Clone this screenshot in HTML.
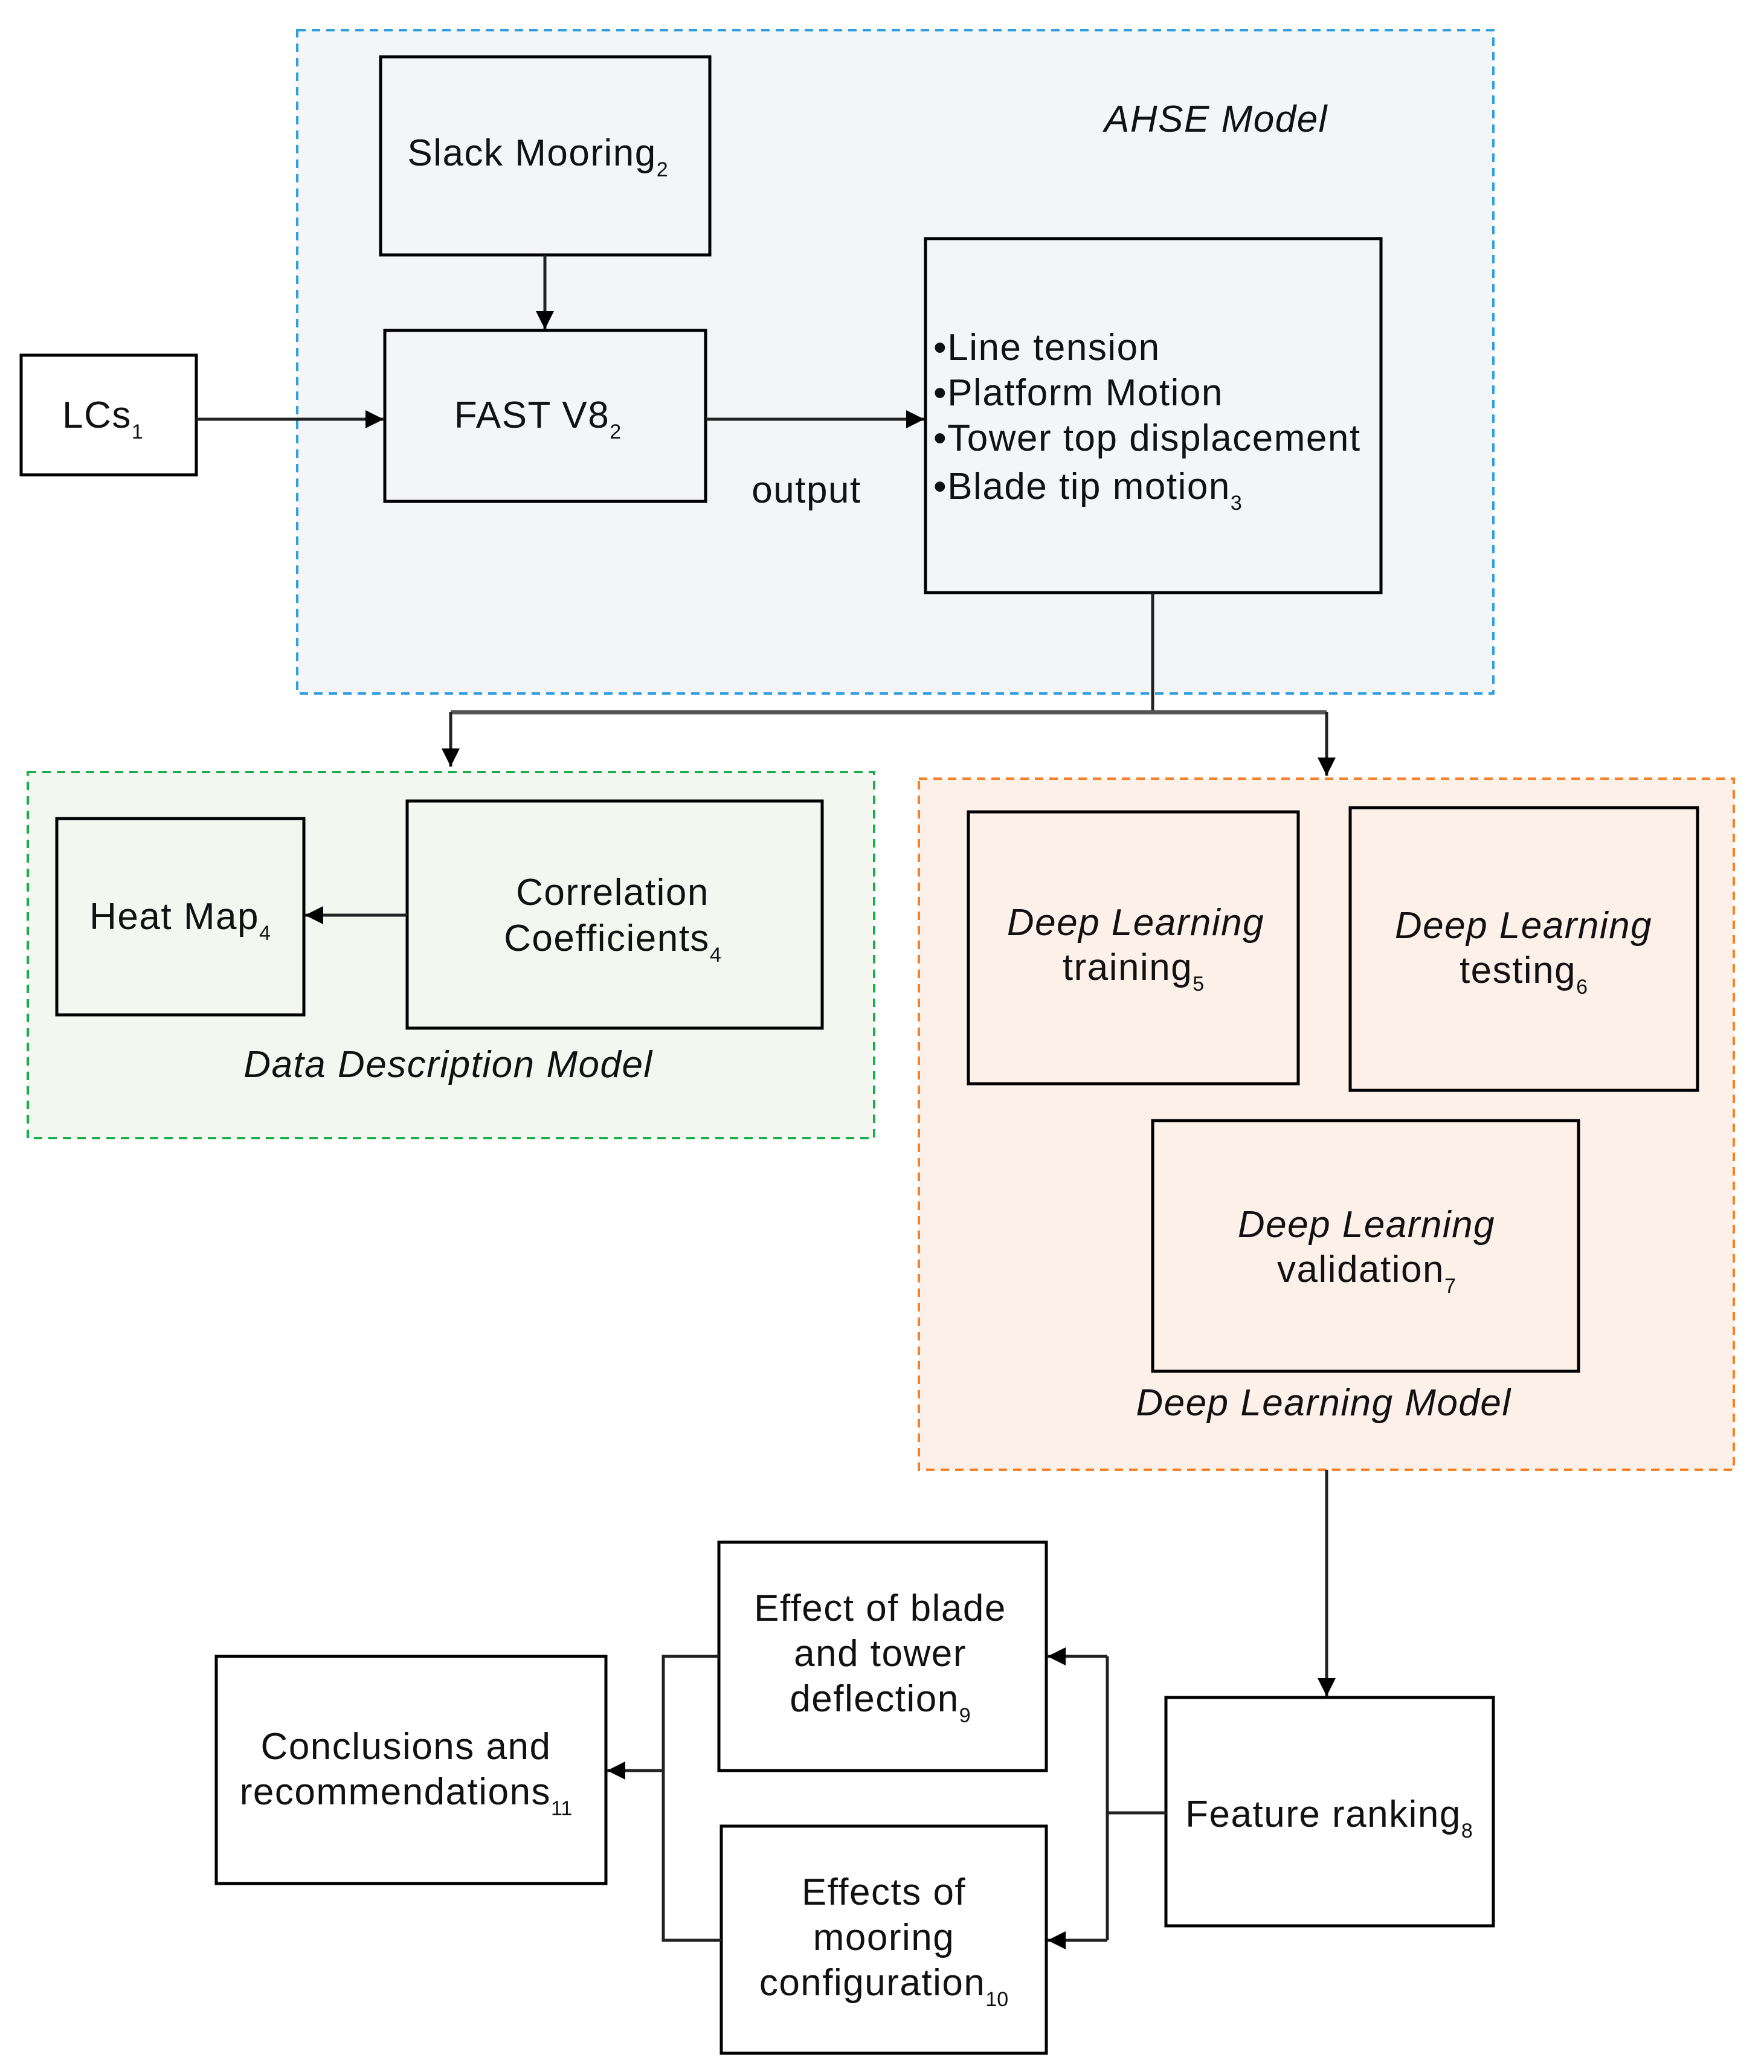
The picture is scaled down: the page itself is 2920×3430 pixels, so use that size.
<!DOCTYPE html>
<html><head><meta charset="utf-8"><style>
html,body{margin:0;padding:0;background:#fff}
svg{display:block}
text{font-family:"Liberation Sans",sans-serif;font-size:62px;fill:#111;letter-spacing:1.5px}
.i{font-style:italic}
.s{font-size:34px;letter-spacing:0}
</style></head><body>
<svg width="2920" height="3430" viewBox="0 0 2920 3430" xmlns="http://www.w3.org/2000/svg">
<defs>
<marker id="a" viewBox="0 0 10 10" refX="10" refY="5" markerWidth="34" markerHeight="30" markerUnits="userSpaceOnUse" orient="auto"><path d="M0,0 L10,5 L0,10z" fill="#000"/></marker>
</defs>
<g>
<rect x="492" y="50" width="1980" height="1098" fill="#f4f5f7" stroke="#2f9fe0" stroke-width="4" stroke-dasharray="14,10"/>
<rect x="46" y="1278" width="1401" height="606" fill="#f3f7f0" stroke="#1aae4a" stroke-width="4" stroke-dasharray="14,10"/>
<rect x="1521" y="1289" width="1349" height="1144" fill="#fdf0e8" stroke="#f5822a" stroke-width="4" stroke-dasharray="14,10"/>
</g>
<g fill="none" stroke="#000" stroke-width="5">
<rect x="630" y="94" width="545" height="328"/>
<rect x="637" y="547" width="531" height="283"/>
<rect x="35" y="588" width="290" height="198" fill="#fff"/>
<rect x="1532" y="395" width="754" height="586"/>
<rect x="94" y="1355" width="409" height="325"/>
<rect x="674" y="1326" width="687" height="376"/>
<rect x="1603" y="1344" width="546" height="450"/>
<rect x="2235" y="1337" width="575" height="468"/>
<rect x="1908" y="1855" width="705" height="415"/>
<rect x="1930" y="2810" width="542" height="378" fill="#fff"/>
<rect x="1190" y="2553" width="542" height="378" fill="#fff"/>
<rect x="1194" y="3023" width="538" height="376" fill="#fff"/>
<rect x="358" y="2742" width="645" height="376" fill="#fff"/>
</g>
<g fill="none" stroke="#222" stroke-width="5">
<line x1="902" y1="422" x2="902" y2="545" marker-end="url(#a)"/>
<line x1="325" y1="694" x2="635" y2="694" marker-end="url(#a)"/>
<line x1="1168" y1="694" x2="1530" y2="694" marker-end="url(#a)"/>
<polyline points="1908,981 1908,1179"/>
<polyline points="746,1179 2196,1179" stroke="#555" stroke-width="7"/>
<line x1="746" y1="1179" x2="746" y2="1269" marker-end="url(#a)"/>
<line x1="2196" y1="1179" x2="2196" y2="1284" marker-end="url(#a)"/>
<line x1="674" y1="1515" x2="505" y2="1515" marker-end="url(#a)"/>
<line x1="2196" y1="2433" x2="2196" y2="2808" marker-end="url(#a)"/>
<polyline points="1930,3001 1833,3001"/>
<polyline points="1833,2742 1833,3212"/>
<line x1="1833" y1="2742" x2="1734" y2="2742" marker-end="url(#a)"/>
<line x1="1833" y1="3212" x2="1734" y2="3212" marker-end="url(#a)"/>
<polyline points="1190,2742 1098,2742 1098,3212 1194,3212"/>
<line x1="1098" y1="2931" x2="1005" y2="2931" marker-end="url(#a)"/>
</g>
<text x="2013" y="218" class="i" text-anchor="middle">AHSE Model</text>
<text x="890" y="274" text-anchor="middle">Slack Mooring<tspan class="s" dy="18">2</tspan></text>
<text x="890" y="708" text-anchor="middle">FAST  V8<tspan class="s" dy="18">2</tspan></text>
<text x="170" y="708" text-anchor="middle">LCs<tspan class="s" dy="18">1</tspan></text>
<text x="1335" y="832" text-anchor="middle">output</text>
<text x="1545" y="596">•Line tension</text>
<text x="1545" y="671">•Platform Motion</text>
<text x="1545" y="746">•Tower top displacement</text>
<text x="1545" y="826">•Blade tip motion<tspan class="s" dy="18">3</tspan></text>
<text x="298" y="1538" text-anchor="middle">Heat Map<tspan class="s" dy="18">4</tspan></text>
<text x="1014" y="1498" text-anchor="middle">Correlation</text>
<text x="1014" y="1574" text-anchor="middle">Coefficients<tspan class="s" dy="18">4</tspan></text>
<text x="742" y="1783" class="i" text-anchor="middle">Data Description Model</text>
<text x="1880" y="1548" class="i" text-anchor="middle">Deep Learning</text>
<text x="1876" y="1622" text-anchor="middle">training<tspan class="s" dy="18">5</tspan></text>
<text x="2522" y="1553" class="i" text-anchor="middle">Deep Learning</text>
<text x="2522" y="1627" text-anchor="middle">testing<tspan class="s" dy="18">6</tspan></text>
<text x="2262" y="2048" class="i" text-anchor="middle">Deep Learning</text>
<text x="2262" y="2122" text-anchor="middle">validation<tspan class="s" dy="18">7</tspan></text>
<text x="2191" y="2343" class="i" text-anchor="middle">Deep Learning Model</text>
<text x="2200" y="3024" text-anchor="middle">Feature ranking<tspan class="s" dy="18">8</tspan></text>
<text x="1457" y="2683" text-anchor="middle">Effect of blade</text>
<text x="1457" y="2758" text-anchor="middle">and tower</text>
<text x="1457" y="2833" text-anchor="middle">deflection<tspan class="s" dy="18">9</tspan></text>
<text x="1463" y="3153" text-anchor="middle">Effects of</text>
<text x="1463" y="3228" text-anchor="middle">mooring</text>
<text x="1463" y="3303" text-anchor="middle">configuration<tspan class="s" dy="18">10</tspan></text>
<text x="672" y="2912" text-anchor="middle">Conclusions and</text>
<text x="672" y="2987" text-anchor="middle">recommendations<tspan class="s" dy="18">11</tspan></text>
</svg>
</body></html>
